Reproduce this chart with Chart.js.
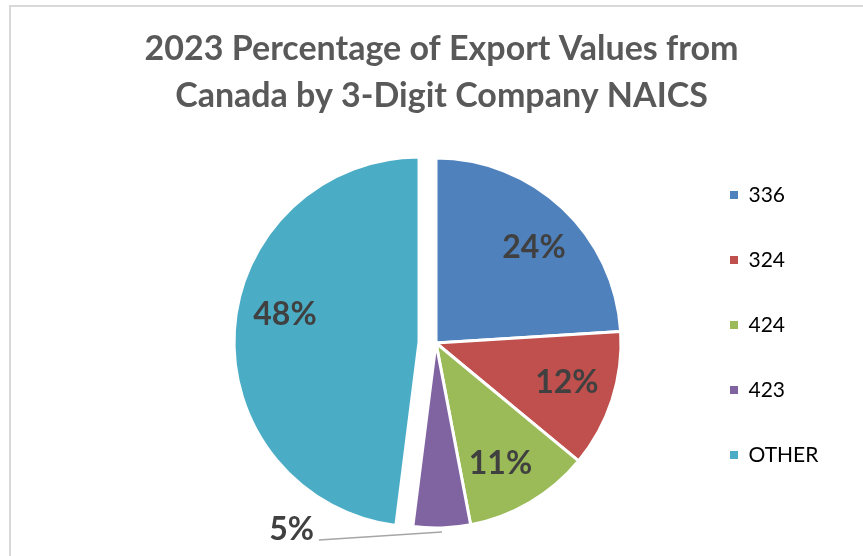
<!DOCTYPE html>
<html>
<head>
<meta charset="utf-8">
<title>2023 Percentage of Export Values from Canada by 3-Digit Company NAICS</title>
<script src="https://cdn.jsdelivr.net/npm/chart.js@4.4.0/dist/chart.umd.min.js"></script>
<style>
  html, body { margin: 0; padding: 0; background: #fff; }
  #wrap { width: 863px; height: 556px; }
</style>
</head>
<body>
<div id="wrap"><canvas id="myChart" width="863" height="556"></canvas></div>
<script>
// values
const naics = ['336', '324', '424', '423', 'OTHER'];
const shares = [24, 12, 11, 5, 48];
const sliceColors = ['#4F81BD', '#C0504D', '#9BBB59', '#8064A2', '#4BACC6'];
const titleLines = ['2023 Percentage of Export Values from', 'Canada by 3-Digit Company NAICS'];

Chart.defaults.font.family = 'Lato';

// frame + title, exploded slice, percent labels
let pieDecor = {
  id: 'pieDecor',
  beforeDraw(chart) {
    const ctx = chart.ctx;
    ctx.save();
    ctx.fillStyle = '#fff';
    ctx.fillRect(0, 0, chart.width, chart.height);
    ctx.strokeStyle = '#d9d9d9';
    ctx.lineWidth = 2;
    ctx.beginPath();
    ctx.moveTo(10, chart.height);
    ctx.lineTo(10, 6);
    ctx.lineTo(chart.width, 6);
    ctx.stroke();

    ctx.fillStyle = '#595959';
    ctx.font = 'bold 34px Lato';
    ctx.textAlign = 'center';
    ctx.textBaseline = 'middle';
    titleLines.forEach((t, i) => ctx.fillText(t, 441.5, 49 + i * 47));
    ctx.restore();
  },
  beforeDatasetDraw(chart, args, opts) {
    args.meta.data.forEach((arc, i) => {
      const d = opts.explode[i] || 0;
      const mid = (arc.startAngle + arc.endAngle) / 2;
      arc.$home = {x: arc.x, y: arc.y};
      arc.x += Math.cos(mid) * d;
      arc.y += Math.sin(mid) * d;
    });
  },
  afterDatasetDraw(chart, args, opts) {
    const ctx = chart.ctx;
    const total = shares.reduce((a, b) => a + b, 0);
    ctx.save();
    ctx.font = 'bold 32px Lato';
    ctx.fillStyle = '#404040';
    ctx.textBaseline = 'middle';
    args.meta.data.forEach((arc, i) => {
      const mid = (arc.startAngle + arc.endAngle) / 2;
      const r = arc.outerRadius;
      const pct = Math.round(shares[i] / total * 100) + '%';
      if (shares[i] / total < 0.08) {
        // small slice: label outside with a leader line
        const sx = arc.x + Math.cos(mid) * (r + 4);
        const sy = arc.y + Math.sin(mid) * (r + 4);
        const ex = sx - 123;
        const ey = sy + 8;
        ctx.strokeStyle = '#a6a6a6';
        ctx.lineWidth = 1.5;
        ctx.beginPath();
        ctx.moveTo(sx, sy);
        ctx.lineTo(ex, ey);
        ctx.stroke();
        ctx.textAlign = 'right';
        ctx.fillText(pct, ex - 5, ey - 10);
      } else {
        const a = mid + (opts.nudge[i] || 0) * Math.PI / 180;
        ctx.textAlign = 'center';
        ctx.fillText(pct, arc.x + Math.cos(a) * r * 0.74, arc.y + Math.sin(a) * r * 0.74);
      }
    });
    ctx.restore();
    args.meta.data.forEach((arc) => {
      if (arc.$home) {
        arc.x = arc.$home.x;
        arc.y = arc.$home.y;
      }
    });
  }
};

var myChart = document.getElementById('myChart').getContext('2d');

var naicsPie = new Chart(myChart, {
  type: 'pie',
  data: {
    labels: naics,
    datasets: [{
      data: shares,
      backgroundColor: sliceColors,
      borderColor: '#ffffff',
      borderWidth: 3,
      radius: 185
    }]
  },
  options: {
    responsive: false,
    animation: false,
    layout: {
      padding: {left: 186, right: 38, top: 140.5, bottom: 10.5}
    },
    plugins: {
      title: {display: false},
      tooltip: {enabled: false},
      pieDecor: {explode: [0, 0, 0, 0, 17], nudge: [2.5, -1, 2.5, 0, 8]},
      legend: {
        position: 'right',
        align: 'start',
        maxWidth: 139,
        labels: {
          boxWidth: 8,
          boxHeight: 8,
          padding: 44,
          color: '#595959',
          font: {family: 'Lato', size: 21},
          generateLabels: function(chart) {
            return naics.map((n, i) => ({
              text: n,
              fillStyle: sliceColors[i],
              strokeStyle: sliceColors[i],
              lineWidth: 0,
              hidden: false,
              index: i
            }));
          }
        }
      }
    }
  },
  plugins: [pieDecor]
});
</script>
</body>
</html>
